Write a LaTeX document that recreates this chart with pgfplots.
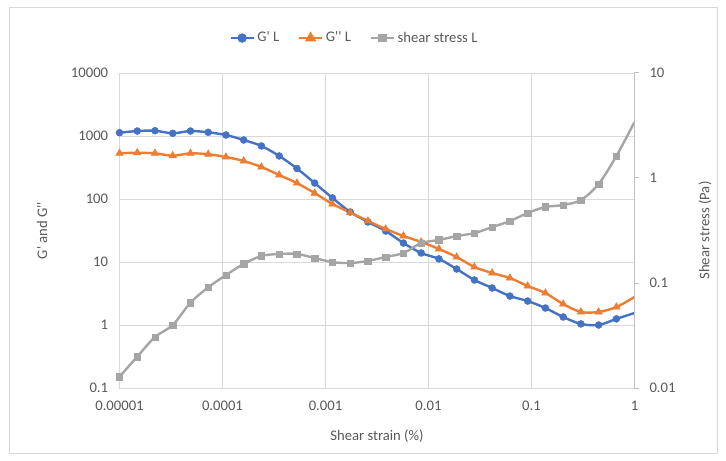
\documentclass[border=0pt]{standalone}
\usepackage{pgfplots}
\pgfplotsset{compat=1.18}
\usepackage{pgfplotstable}
\usepackage{fontspec}
\setmainfont{Carlito}
\definecolor{cblue}{HTML}{4472C4}
\definecolor{corange}{HTML}{ED7D31}
\definecolor{cgray}{HTML}{A5A5A5}
\definecolor{gridc}{HTML}{D9D9D9}
\definecolor{axc}{HTML}{BFBFBF}
\definecolor{txt}{HTML}{595959}
\newcommand{\pr}{\textquotesingle}
\pgfplotstableread{
x gp gpp ss
1.000e-5 1127 531 0.0128
1.487e-5 1200 543 0.0199
2.211e-5 1213 531 0.0306
3.288e-5 1104 487 0.0398
4.889e-5 1200 531 0.0649
7.270e-5 1145 513 0.0910
1.081e-4 1037 464 0.119
1.607e-4 864 401 0.152
2.390e-4 694 322 0.181
3.554e-4 482 240 0.189
5.284e-4 305 179 0.189
7.858e-4 179 124 0.173
1.168e-3 104 83.4 0.158
1.737e-3 62.2 61.1 0.155
2.583e-3 43.2 44.8 0.162
3.841e-3 31.0 33.4 0.177
5.711e-3 20.0 25.9 0.193
8.494e-3 13.9 20.8 0.240
1.263e-2 11.2 16.1 0.257
1.878e-2 7.74 12.0 0.280
2.793e-2 5.18 8.33 0.299
4.153e-2 3.87 6.68 0.341
6.175e-2 2.88 5.57 0.389
9.182e-2 2.40 4.16 0.464
0.1365 1.86 3.22 0.530
0.2030 1.34 2.15 0.553
0.3019 1.04 1.61 0.617
0.4489 1.00 1.61 0.877
0.6675 1.25 1.93 1.62
1 1.55 2.78 3.41
}\datatab
\begin{document}
\begin{tikzpicture}[font=\fontsize{11}{13}\selectfont]
\path[use as bounding box, x=0.75pt, y=0.75pt] (-119.5,-73) rectangle (606.5,388);
\draw[gridc, line width=0.75pt, x=0.75pt, y=0.75pt] (-109.5,-65) rectangle (597.5,380);
\begin{axis}[
  scale only axis, width=386.25pt, height=236.25pt,
  xmode=log, ymode=log,
  xmin=1e-5, xmax=1, ymin=0.1, ymax=10000,
  xtick={1e-5,1e-4,1e-3,1e-2,1e-1,1},
  xticklabels={0.00001,0.0001,0.001,0.01,0.1,1},
  ytick={0.1,1,10,100,1000,10000},
  yticklabels={0.1,1,10,100,1000,10000},
  grid=major, major grid style={gridc, line width=0.75pt},
  axis line style={gridc, line width=0.75pt},
  major tick length=0pt, minor tick length=0pt,
  tick label style={text=txt, font=\fontsize{11}{13}\selectfont},
  xticklabel style={yshift=-6pt},
  yticklabel style={xshift=-5pt},
  xlabel={Shear strain (\%)},
  ylabel={G\pr{} and G\pr\pr},
  label style={text=txt, font=\fontsize{11}{13}\selectfont},
  xlabel style={at={(axis description cs:0.5,-0.152)}, anchor=center},
  ylabel style={at={(axis description cs:-0.1505,0.5)}, anchor=center},
]
\addplot[cblue, line width=1.8pt, smooth, forget plot] table[x=x, y=gp]{\datatab};
\addplot[cblue, only marks, mark=*, mark size=2.6pt, skip coords between index={29}{30}, forget plot] table[x=x, y=gp]{\datatab};
\addplot[corange, line width=1.8pt, smooth, forget plot] table[x=x, y=gpp]{\datatab};
\addplot[corange, only marks, mark=triangle*, mark size=3.2pt, skip coords between index={29}{30}, forget plot] table[x=x, y=gpp]{\datatab};
\end{axis}
\begin{axis}[
  scale only axis, width=386.25pt, height=236.25pt,
  xmode=log, ymode=log,
  xmin=1e-5, xmax=1, ymin=0.01, ymax=10,
  axis x line=none, axis y line*=right,
  ytick={0.01,0.1,1,10},
  yticklabels={0.01,0.1,1,10},
  y axis line style={axc, line width=0.75pt},
  ytick style={axc, line width=0.75pt},
  tick align=outside, major tick length=3.75pt, minor tick length=0pt,
  tick label style={text=txt, font=\fontsize{11}{13}\selectfont},
  yticklabel style={xshift=4pt},
  ylabel={Shear stress (Pa)},
  ylabel style={at={(axis description cs:1.137,0.5)}, anchor=center, text=txt, font=\fontsize{11}{13}\selectfont},
  legend style={at={(axis description cs:0.457,1.111)}, anchor=center, draw=none, fill=none,
    legend columns=3, font=\fontsize{11}{13}\selectfont, text=txt,
    /tikz/every even column/.append style={column sep=12pt}},
]
\addlegendimage{cblue, line width=1.8pt, mark=*, mark size=2.6pt}
\addlegendentry{G\pr{} L}
\addlegendimage{corange, line width=1.8pt, mark=triangle*, mark size=3.2pt}
\addlegendentry{G\pr\pr{} L}
\addlegendimage{cgray, line width=1.8pt, mark=square*, mark size=2.4pt}
\addlegendentry{shear stress L}
\addplot[cgray, line width=1.8pt, smooth, forget plot] table[x=x, y=ss]{\datatab};
\addplot[cgray, only marks, mark=square*, mark size=2.4pt, skip coords between index={29}{30}, forget plot] table[x=x, y=ss]{\datatab};
\end{axis}
\end{tikzpicture}
\end{document}
